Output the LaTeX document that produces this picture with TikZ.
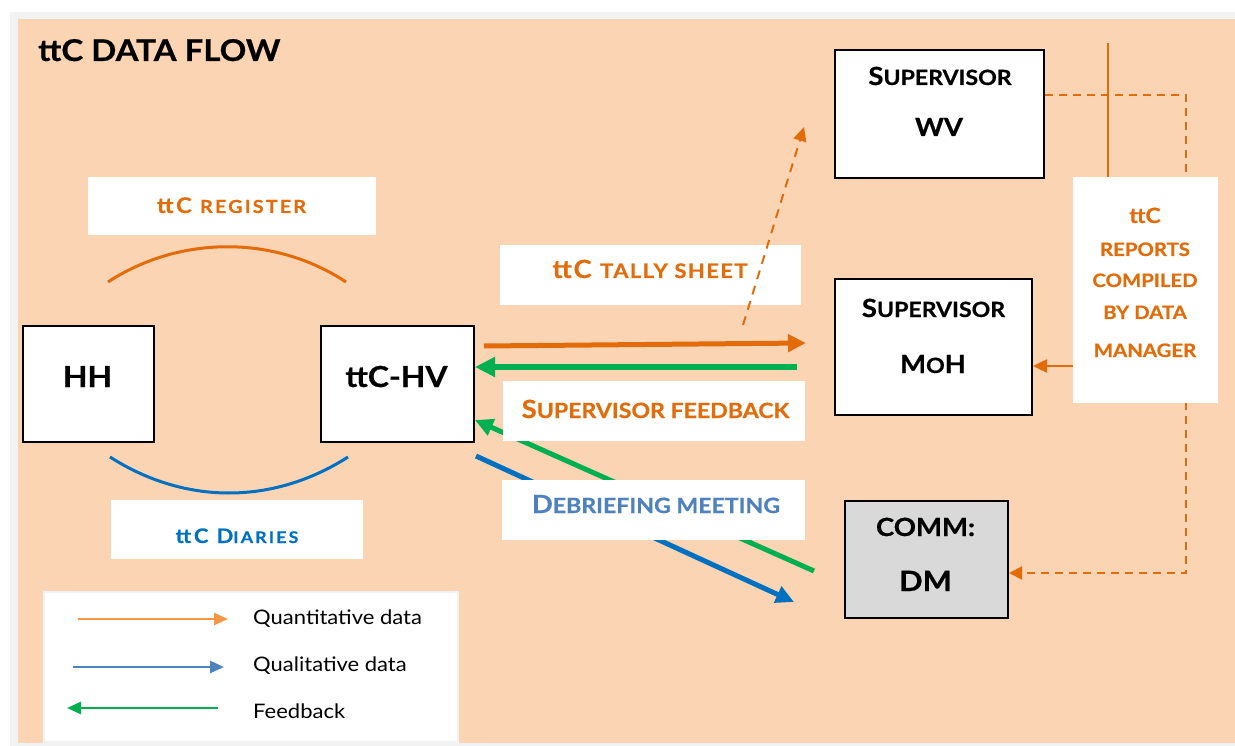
\documentclass[tikz,border=0pt]{standalone}
\usepackage{fontspec}
\setmainfont{Lato}[FakeStretch=1.1,BoldFeatures={FakeBold=0.6}]
\usetikzlibrary{arrows.meta}
\definecolor{peach}{HTML}{FBD4B4}
\definecolor{frame}{HTML}{F2F2F2}
\definecolor{orng}{HTML}{E36C0A}
\definecolor{lorng}{HTML}{F79646}
\definecolor{blu}{HTML}{0070C0}
\definecolor{lblu}{HTML}{4F81BD}
\definecolor{grn}{HTML}{00B050}
\definecolor{gry}{HTML}{D9D9D9}
\newcommand\fs[1]{\fontsize{#1}{#1}\selectfont}
\newcommand\lsp[1]{\addfontfeature{LetterSpace=#1}}
\begin{document}
\begin{tikzpicture}[x=1pt,y=-1pt,
  box/.style={draw=black,line width=2pt,fill=white,inner sep=0pt,anchor=north west},
  lab/.style={fill=white,inner sep=0pt,anchor=north west},
  txt/.style={inner sep=0pt,font=\bfseries,anchor=base},
  thickarr/.style={line width=5pt,-{Triangle[length=18pt,width=17pt]}},
  legarr/.style={line width=2.5pt,-{Triangle[length=14pt,width=12pt]}}]
\path[use as bounding box] (0,0) rectangle (1235,746);
\fill[white] (0,0) rectangle (1235,746);
\fill[frame] (10,12) rectangle (1235,746);
\fill[peach] (18,19) rectangle (1235,743);
% title
\node[txt,anchor=base west] (title) at (38,61) {\fs{30}ttC DATA FLOW};
% boxes
\node[box,minimum width=131pt,minimum height=116pt] (hh) at (22,325) {};
\node[txt] (hht) at (87.5,387) {\fs{29}HH};
\node[box,minimum width=153pt,minimum height=116pt] (hv) at (320,325) {};
\node[txt] (hvt) at (396.5,387) {\fs{29}ttC-HV};
\node[box,minimum width=209pt,minimum height=128pt] (wv) at (834,49) {};
\node[txt] (wvt1) at (940,85) {\fs{25}S\fs{21}UPERVISOR};
\node[txt] (wvt2) at (939,136) {\fs{25}WV};
\node[box,minimum width=197pt,minimum height=136pt] (moh) at (834,278) {};
\node[txt] (moht1) at (933.5,317) {\fs{25}S\fs{21}UPERVISOR};
\node[txt] (moht2) at (933,373) {\fs{25}M\fs{21}O\fs{25}H};
\node[box,fill=gry,minimum width=163pt,minimum height=117pt] (dm) at (844,500) {};
\node[txt] (dmt1) at (925.5,536) {\fs{25}COMM:};
\node[txt] (dmt2) at (925.5,591) {\fs{28}DM};
% lines behind reports label
\draw[orng,line width=2pt] (1108,43) -- (1108,180);
\coordinate (c1) at (1186,95);
\coordinate (c2) at (1186,573);
\draw[orng,line width=2pt,dash pattern=on 8pt off 6pt,-{Triangle[length=13pt,width=13pt]}]
  (wv.east |- c1) -- (c1) -- (c2) -- (dm.east |- c2);
% diagonal arrows (behind labels)
\coordinate (g1) at (814,571);
\coordinate (g2) at (475,420);
\draw[grn,thickarr] (g1) -- (g2);
\coordinate (b0) at (476,456);
\coordinate (b1) at (794,602);
\draw[blu,thickarr] (b0) -- (b1);
% labels
\node[lab,minimum width=288pt,minimum height=58pt] (reg) at (88,177) {};
\node[txt,text=orng] (regt) at (231.5,213) {\fs{21.5}\lsp{12}ttC \fs{18}REGISTER};
\node[lab,minimum width=252pt,minimum height=59pt] (dia) at (111,500) {};
\node[txt,text=blu] (diat) at (237,543) {\fs{20}\lsp{14}ttC D\fs{16}IARIES};
\node[lab,minimum width=301pt,minimum height=60pt] (tally) at (500,245) {};
\node[txt,text=orng] (tallyt) at (650,278) {\fs{25}\lsp{7}ttC \fs{20}TALLY SHEET};
\node[lab,minimum width=302pt,minimum height=60pt] (fb) at (503,381) {};
\node[txt,text=orng] (fbt) at (655.5,418) {\fs{25}S\fs{21}UPERVISOR FEEDBACK};
\node[lab,minimum width=303pt,minimum height=60pt] (deb) at (502,480) {};
\node[txt,text=lblu] (debt) at (656,513) {\fs{25}D\fs{21}EBRIEFING MEETING};
\node[lab,minimum width=145pt,minimum height=226pt] (rep) at (1073,177) {};
\node[txt,text=orng] (rept) at (1145,223) {\fs{21}ttC};
\node[txt,text=orng] (rep2) at (1145,256) {\fs{18.5}REPORTS};
\node[txt,text=orng] (rep3) at (1145,287) {\fs{18.5}COMPILED};
\node[txt,text=orng] (rep4) at (1145,319) {\fs{18.5}BY DATA};
\node[txt,text=orng] (rep5) at (1145,357) {\fs{18.5}MANAGER};
% arcs
\draw[orng,line width=3pt] (108,282) .. controls (180,235) and (275,235) .. (346,282);
\draw[blu,line width=3pt] (110,457) .. controls (185,505) and (273,505) .. (348,457);
% dashed arrow to WV (over tally label)
\coordinate (d0) at (743,325);
\coordinate (d1) at (804,127);
\draw[orng,line width=2pt,dash pattern=on 9pt off 7pt,-{Triangle[length=14pt,width=13pt]}] (d0) -- (d1);
% main arrows
\coordinate (o0) at (484,346);
\coordinate (o1) at (806,343);
\draw[orng,thickarr] (o0) -- (o1);
\coordinate (g0) at (797,367);
\draw[grn,line width=6pt,-{Triangle[length=20pt,width=19pt]}] (g0) -- (hv.east |- g0);
\draw[orng,line width=2.5pt,-{Triangle[length=14pt,width=13pt]}] (rep.west |- 0,366) -- (moh.east |- 0,366);
% legend
\node[draw=frame,line width=2pt,fill=white,inner sep=0pt,anchor=north west,minimum width=414pt,minimum height=150pt] (leg) at (43,591) {};
\coordinate (l1a) at (78,619); \coordinate (l1b) at (228,619);
\coordinate (l2a) at (73,667); \coordinate (l2b) at (224,667);
\coordinate (l3a) at (218,708); \coordinate (l3b) at (67,708);
\draw[lorng,legarr] (l1a) -- (l1b);
\draw[lblu,legarr] (l2a) -- (l2b);
\draw[grn,legarr] (l3a) -- (l3b);
\node[inner sep=0pt,anchor=base west] (lt1) at (253,624) {\fs{20}Quantitative data};
\node[inner sep=0pt,anchor=base west] (lt2) at (253,671) {\fs{20}Qualitative data};
\node[inner sep=0pt,anchor=base west] (lt3) at (253,718) {\fs{20}Feedback};
\end{tikzpicture}
\end{document}
